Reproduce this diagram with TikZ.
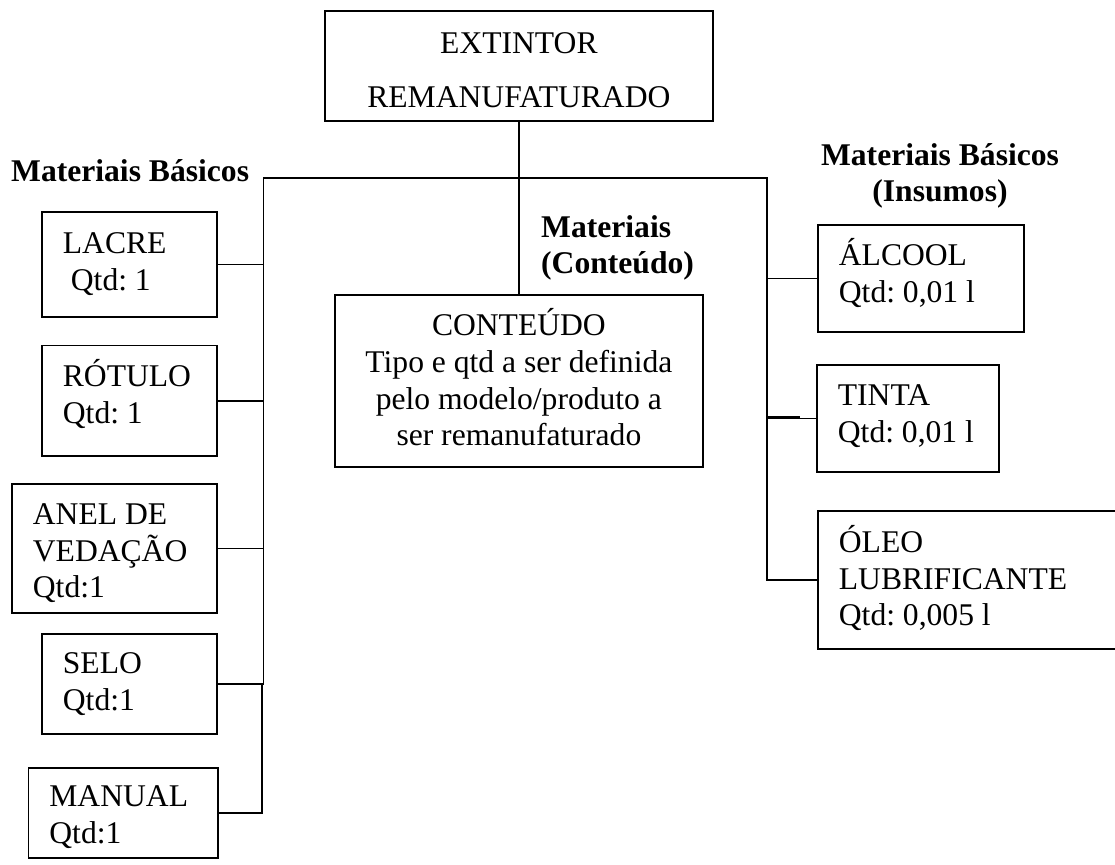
\documentclass[tikz,border=0pt]{standalone}
\usepackage{fontspec}
\setmainfont{Liberation Serif}
\begin{document}
\begin{tikzpicture}[x=1pt,y=-1pt,
  txt/.style={font=\fontsize{31.6}{36.6}\selectfont\frenchspacing},
  box/.style={txt, draw, line width=1.8pt, anchor=north west,
              inner xsep=21pt, inner ysep=0pt, align=flush left},
  head/.style={font=\fontsize{31.6}{36.6}\selectfont\bfseries\frenchspacing,
               inner sep=0pt},
  wire/.style={line width=1.8pt}]
\useasboundingbox (0,0) rectangle (1115,864);

% root
\node[box, align=flush center, inner xsep=0pt, text width=388pt,
      text height=42.5pt, text depth=67.5pt] (top) at (324,10)
  {EXTINTOR\\[18pt]REMANUFATURADO};

% group headings (top edge = first baseline minus 25pt)
\node[head, anchor=north west, text height=25pt] (hleft) at (11,156)
  {Materiais Básicos};
\node[head, anchor=north west, align=flush left, text width=200pt,
      text height=25pt] (hmid) at (541,212)
  {Materiais\\(Conteúdo)};
\node[head, anchor=north, align=flush center, text width=300pt,
      text height=25pt] (hright) at (940,140)
  {Materiais Básicos\\(Insumos)};

% basic materials
\node[box, text width=133pt, text height=41.5pt, text depth=63.5pt]
  (lacre) at (41,211) {LACRE\\\hspace*{8pt}Qtd:~1};
\node[box, text width=133pt, text height=41pt, text depth=69.5pt]
  (rotulo) at (41,344.5) {RÓTULO\\Qtd:~1};
\node[box, text width=163pt, text height=40.5pt, text depth=88.5pt]
  (anel) at (11,483) {ANEL DE\\VEDAÇÃO\\Qtd:1};
\node[box, text width=133pt, text height=39.5pt, text depth=60.5pt]
  (selo) at (41,633) {SELO\\Qtd:1};
\node[box, text width=147.5pt, text height=38.5pt, text depth=51.5pt]
  (manual) at (27.5,767) {MANUAL\\Qtd:1};

% content
\node[box, align=flush center, inner xsep=6pt, text width=356pt,
      text height=41pt, text depth=131pt] (con) at (334,294)
  {CONTEÚDO\\Tipo e qtd a ser definida\\pelo modelo/produto a\\ser remanufaturado};

% supplies
\node[box, text width=164pt, text height=41pt, text depth=66pt]
  (alcool) at (817,224) {ÁLCOOL\\Qtd:~0,01~l};
\node[box, text width=140pt, text height=41pt, text depth=66pt]
  (tinta) at (816,364) {TINTA\\Qtd:~0,01~l};
\node[box, text width=278pt, text height=41.5pt, text depth=96.5pt]
  (oleo) at (817,510) {ÓLEO\\LUBRIFICANTE\\Qtd:~0,005~l};

% connectors
\coordinate (busL) at (263.5,178);
\coordinate (busR) at (767,178);
\coordinate (spineB) at (262,683);

\draw[wire] (top.south) -- (con.north);
\draw[wire] (busL |- selo.east) -- (busL) -- (busR) |- (oleo.west);

\draw[wire] (lacre.east) -- (lacre.east -| busL);
\draw[wire] (rotulo.east) -- (rotulo.east -| busL);
\draw[wire] (anel.east) -- (anel.east -| busL);
\draw[wire] (selo.east) -- (selo.east -| busL);
\draw[wire] (spineB) |- (manual.east);

\draw[wire] (alcool.west -| busR) -- (alcool.west);
\draw[wire] (tinta.west -| busR) -- (tinta.west);
\draw[wire] ([yshift=1.5pt]tinta.west -| busR) -- +(33,0);
\end{tikzpicture}
\end{document}
